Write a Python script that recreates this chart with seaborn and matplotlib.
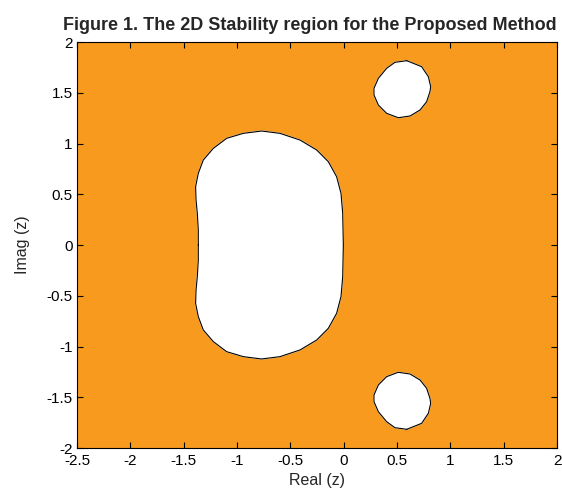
import numpy as np
import pandas as pd
import matplotlib
matplotlib.use("Agg")
import matplotlib.pyplot as plt
import seaborn as sns

# Boundary of the large unstable region (upper half, traced clockwise from the
# point on the real axis at the left, over the top, down to the real axis at right)
main_re = [-1.363, -1.363, -1.372, -1.384, -1.388, -1.363, -1.316, -1.222, -1.097,
           -0.941, -0.769, -0.597, -0.409, -0.253, -0.144, -0.066, -0.025, -0.009, -0.003]
main_im = [0.000, 0.148, 0.312, 0.443, 0.575, 0.706, 0.837, 0.952, 1.051,
           1.100, 1.123, 1.100, 1.034, 0.936, 0.821, 0.673, 0.509, 0.312, 0.000]

# Boundary of the small unstable island in the upper half plane
isle_re = [0.591, 0.731, 0.794, 0.816, 0.809, 0.778, 0.716, 0.622, 0.512,
           0.403, 0.325, 0.284, 0.284, 0.325, 0.403, 0.481]
isle_im = [1.816, 1.757, 1.658, 1.560, 1.511, 1.412, 1.330, 1.271, 1.254,
           1.297, 1.379, 1.478, 1.544, 1.642, 1.741, 1.800]

x_ticks = [-2.5, -2, -1.5, -1, -0.5, 0, 0.5, 1, 1.5, 2]
y_ticks = [-2, -1.5, -1, -0.5, 0, 0.5, 1, 1.5, 2]

title = "Figure 1. The 2D Stability region for the Proposed Method"
stable_color = "#F79A1E"

sns.set_style("ticks")
plt.rcParams["font.family"] = ["Liberation Sans", "DejaVu Sans"]

# Close the large region by mirroring its upper half (real-coefficient method)
big_re = main_re + main_re[::-1][1:-1]
big_im = main_im + [-v for v in main_im[::-1][1:-1]]
regions = [
    (big_re, big_im),
    (isle_re, isle_im),
    (isle_re, [-v for v in isle_im]),
]

fig = plt.figure(figsize=(5.62, 4.91), dpi=100)
ax = fig.add_axes([77 / 562, 1 - 448 / 491, 480 / 562, 406 / 491])
ax.set_facecolor(stable_color)

for k, (re, im) in enumerate(regions):
    re_c = list(re) + [re[0]]
    im_c = list(im) + [im[0]]
    ax.fill(re_c, im_c, color="white", zorder=2)
    df = pd.DataFrame({"re": re_c, "im": im_c})
    sns.lineplot(data=df, x="re", y="im", sort=False, color="black",
                 linewidth=0.8, ax=ax, zorder=3, estimator=None)

ax.set_xlim(-2.5, 2)
ax.set_ylim(-2, 2)
ax.set_xticks(x_ticks)
ax.set_yticks(y_ticks)
ax.set_xticklabels([f"{v:g}" for v in x_ticks])
ax.set_yticklabels([f"{v:g}" for v in y_ticks])
ax.tick_params(direction="in", top=True, right=True, length=4, width=0.8,
               labelsize=11, colors="black")
ax.tick_params(axis="x", pad=4)
ax.tick_params(axis="y", pad=3)
for s in ax.spines.values():
    s.set_linewidth(0.8)
    s.set_color("black")
    s.set_zorder(5)

ax.set_xlabel("Real (z)", fontsize=11.5, labelpad=4)
ax.set_ylabel("Imag (z)", fontsize=11.5, labelpad=12)
ax.set_title(title, fontsize=13, fontweight="bold", pad=9, x=0.485)

fig.savefig("out.png", dpi=100)
